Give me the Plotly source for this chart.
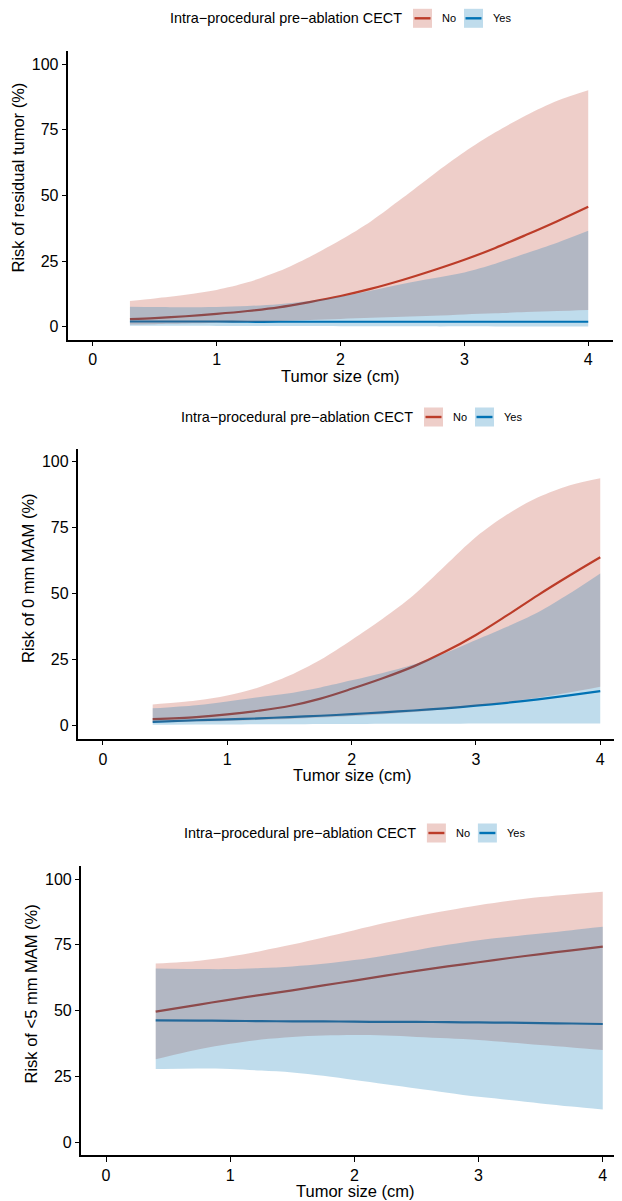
import plotly.graph_objects as go

# The page body has an 8 px default margin: positions below are measured in
# screen pixels of the 622x1201 window and converted to figure coordinates.
OFF = 8
W, H = 622 - OFF, 1201 - OFF

# ---------------- data ----------------
legend_title = "Intra\u2212procedural pre\u2212ablation CECT"
group_labels = ["No", "Yes"]
x_title = "Tumor size (cm)"
y_titles = ["Risk of residual tumor (%)", "Risk of 0 mm MAM (%)", "Risk of <5 mm MAM (%)"]
x_ticks = [0, 1, 2, 3, 4]
y_ticks = [0, 25, 50, 75, 100]

# Panel 1: residual tumor
size_res = [0.3, 0.5, 0.75, 1.0, 1.25, 1.5, 1.75, 2.0, 2.25, 2.5, 2.75, 3.0, 3.25, 3.5, 3.75, 4.0]
res_no_fit = [2.9, 3.3, 4.0, 4.9, 6.0, 7.4, 9.4, 11.7, 14.5, 17.8, 21.5, 25.5, 30.0, 35.0, 40.2, 45.7]
res_no_lo = [0.9, 1.0, 1.2, 1.5, 1.8, 2.2, 2.6, 3.0, 3.4, 3.8, 4.2, 4.7, 5.1, 5.6, 6.0, 6.4]
res_no_hi = [9.8, 10.8, 12.2, 14.0, 16.9, 21.1, 26.6, 33.0, 40.3, 49.0, 58.0, 66.5, 74.0, 80.5, 86.0, 90.0]
res_yes_fit = [2.0, 2.0, 2.0, 2.0, 1.9, 1.9, 1.9, 1.9, 1.9, 1.9, 1.9, 1.9, 1.9, 1.9, 1.9, 1.9]
res_yes_lo = [0.4, 0.4, 0.35, 0.3, 0.3, 0.25, 0.25, 0.2, 0.2, 0.2, 0.15, 0.15, 0.1, 0.1, 0.1, 0.1]
res_yes_hi = [7.6, 7.5, 7.4, 7.5, 7.9, 8.6, 9.8, 11.5, 13.8, 16.3, 18.5, 20.7, 24.0, 28.0, 32.0, 36.5]

# Panel 2: 0 mm MAM
size_mam0 = [0.4, 0.75, 1.0, 1.25, 1.5, 1.75, 2.0, 2.25, 2.5, 2.75, 3.0, 3.25, 3.5, 3.75, 4.0]
mam0_no_fit = [2.5, 3.3, 4.3, 5.7, 7.5, 10.3, 14.0, 18.0, 22.5, 28.0, 34.4, 41.8, 49.5, 56.8, 63.8]
mam0_no_lo = [1.2, 1.6, 1.8, 2.2, 2.6, 3.1, 3.7, 4.4, 5.2, 6.3, 7.5, 9.0, 10.6, 12.6, 14.8]
mam0_no_hi = [8.1, 9.6, 11.5, 14.5, 19.0, 25.0, 32.5, 40.5, 49.5, 60.5, 71.5, 80.0, 86.5, 91.0, 93.7]
mam0_yes_fit = [1.5, 2.1, 2.4, 2.8, 3.3, 3.8, 4.4, 5.1, 5.8, 6.6, 7.6, 8.7, 10.0, 11.5, 13.1]
mam0_yes_lo = [0.4, 0.5, 0.5, 0.6, 0.6, 0.7, 0.7, 0.8, 0.8, 0.8, 0.9, 0.9, 0.9, 0.9, 0.9]
mam0_yes_hi = [6.6, 7.8, 9.2, 10.8, 12.3, 14.5, 17.2, 20.0, 23.2, 27.5, 32.5, 37.5, 43.0, 50.0, 57.7]

# Panel 3: <5 mm MAM
size_mam5 = [0.4, 0.75, 1.0, 1.25, 1.5, 1.75, 2.0, 2.25, 2.5, 2.75, 3.0, 3.25, 3.5, 3.75, 4.0]
mam5_no_fit = [49.6, 52.3, 54.2, 56.0, 57.7, 59.6, 61.4, 63.3, 65.1, 66.8, 68.4, 70.0, 71.5, 72.9, 74.3]
mam5_no_lo = [31.5, 35.3, 37.4, 39.0, 40.0, 40.5, 40.7, 40.5, 40.0, 39.5, 38.8, 37.9, 36.9, 36.0, 35.0]
mam5_no_hi = [67.9, 69.0, 70.6, 72.7, 75.1, 77.8, 80.6, 83.4, 85.9, 88.1, 90.1, 91.8, 93.2, 94.3, 95.2]
mam5_yes_fit = [46.3, 46.2, 46.1, 46.0, 45.9, 45.9, 45.8, 45.7, 45.7, 45.6, 45.5, 45.4, 45.2, 45.1, 44.9]
mam5_yes_lo = [27.8, 28.0, 27.8, 27.2, 26.5, 25.2, 23.6, 22.0, 20.4, 18.8, 17.2, 16.0, 14.7, 13.5, 12.4]
mam5_yes_hi = [66.0, 65.8, 65.8, 66.2, 66.8, 67.8, 69.2, 71.0, 73.0, 75.0, 76.8, 78.1, 79.3, 80.6, 81.9]

# ---------------- styling ----------------
RED = "#BC3C29"
BLUE = "#0072B5"
RED_FILL = "rgba(188,60,41,0.25)"
BLUE_FILL = "rgba(0,114,181,0.25)"
FONT = "Liberation Sans, Arial, Helvetica, sans-serif"
SMOOTH = 0.9

panels = [
    dict(x=size_res, no=(res_no_fit, res_no_lo, res_no_hi), yes=(res_yes_fit, res_yes_lo, res_yes_hi),
         xdom=(68, 613), xmax=4.2, ydom=(50.9, 339.9), ytitle=y_titles[0],
         xt=(340.5, 376), yt=(17.5, 178), leg=(340.5, 18.3)),
    dict(x=size_mam0, no=(mam0_no_fit, mam0_no_lo, mam0_no_hi), yes=(mam0_yes_fit, mam0_yes_lo, mam0_yes_hi),
         xdom=(78.1, 622), xmax=4.175, ydom=(448.5, 739), ytitle=y_titles[1],
         xt=(352, 775), yt=(27.5, 578.5), leg=(351.5, 417)),
    dict(x=size_mam5, no=(mam5_no_fit, mam5_no_lo, mam5_no_hi), yes=(mam5_yes_fit, mam5_yes_lo, mam5_yes_hi),
         xdom=(81.2, 622), xmax=4.155, ydom=(866, 1155.2), ytitle=y_titles[2],
         xt=(355, 1191), yt=(30.5, 994), leg=(354.4, 833)),
]


def px(p):
    return (p - OFF) / W


def py(p):
    return 1 - (p - OFF) / H


fig = go.Figure()
layout = dict(width=W, height=H, margin=dict(l=0, r=0, t=0, b=0),
              paper_bgcolor="white", plot_bgcolor="white", showlegend=False,
              font=dict(family=FONT, color="black"))
annotations = []
shapes = []

for i, p in enumerate(panels):
    s = "" if i == 0 else str(i + 1)
    xa, ya = "x" + s, "y" + s
    xs = p["x"]
    # fitted lines first (ribbons are drawn over them, as in the reference)
    for (fit, lo, hi), col in ((p["no"], RED), (p["yes"], BLUE)):
        fig.add_trace(go.Scatter(x=xs, y=fit, mode="lines",
                                 line=dict(color=col, width=2.2, shape="spline", smoothing=SMOOTH),
                                 xaxis=xa, yaxis=ya, hoverinfo="skip"))
    # confidence ribbons
    for (fit, lo, hi), fc in ((p["no"], RED_FILL), (p["yes"], BLUE_FILL)):
        fig.add_trace(go.Scatter(x=xs, y=lo, mode="lines",
                                 line=dict(width=0, shape="spline", smoothing=SMOOTH),
                                 xaxis=xa, yaxis=ya, hoverinfo="skip"))
        fig.add_trace(go.Scatter(x=xs, y=hi, mode="lines", fill="tonexty", fillcolor=fc,
                                 line=dict(width=0, shape="spline", smoothing=SMOOTH),
                                 xaxis=xa, yaxis=ya, hoverinfo="skip"))
    axis_common = dict(showline=True, linecolor="black", linewidth=1.6, ticks="outside",
                       ticklen=4.5, tickwidth=1.3, tickcolor="black", showgrid=False,
                       zeroline=False, tickfont=dict(size=16, family=FONT, color="black"),
                       fixedrange=True)
    layout["xaxis" + s] = dict(axis_common, domain=[px(p["xdom"][0]), min(1.0, px(p["xdom"][1]))],
                               range=[-0.2, p["xmax"]], tickvals=x_ticks, anchor=ya)
    layout["yaxis" + s] = dict(axis_common, domain=[py(p["ydom"][1]), py(p["ydom"][0])],
                               range=[-5, 105], tickvals=y_ticks, anchor=xa)
    # axis titles
    annotations.append(dict(text=x_title, x=px(p["xt"][0]), y=py(p["xt"][1]), xref="paper", yref="paper",
                            xanchor="center", yanchor="middle", showarrow=False,
                            font=dict(size=16.5, family=FONT, color="black")))
    annotations.append(dict(text=p["ytitle"], x=px(p["yt"][0]), y=py(p["yt"][1]), xref="paper", yref="paper",
                            xanchor="center", yanchor="middle", showarrow=False, textangle=-90,
                            font=dict(size=16.5, family=FONT, color="black")))
    # legend (title + two keys)
    cx, cy = p["leg"]
    annotations.append(dict(text=legend_title, x=px(cx + 63.5), y=py(cy), xref="paper", yref="paper",
                            xanchor="right", yanchor="middle", showarrow=False,
                            font=dict(size=14.4, family=FONT, color="black")))
    for off, lab, fc, lc in ((72.5, group_labels[0], RED_FILL, RED), (123.5, group_labels[1], BLUE_FILL, BLUE)):
        shapes.append(dict(type="rect", xref="paper", yref="paper",
                           x0=px(cx + off), x1=px(cx + off + 19), y0=py(cy + 9.5), y1=py(cy - 9.5),
                           fillcolor=fc, line=dict(width=0), layer="above"))
        shapes.append(dict(type="line", xref="paper", yref="paper",
                           x0=px(cx + off + 1.5), x1=px(cx + off + 17.5), y0=py(cy), y1=py(cy),
                           line=dict(color=lc, width=2.4), layer="above"))
        annotations.append(dict(text=lab, x=px(cx + off + 27), y=py(cy), xref="paper", yref="paper",
                                xanchor="left", yanchor="middle", showarrow=False,
                                font=dict(size=11, family=FONT, color="black")))

layout["annotations"] = annotations
layout["shapes"] = shapes
fig.update_layout(**layout)
fig.write_html("out.html")
